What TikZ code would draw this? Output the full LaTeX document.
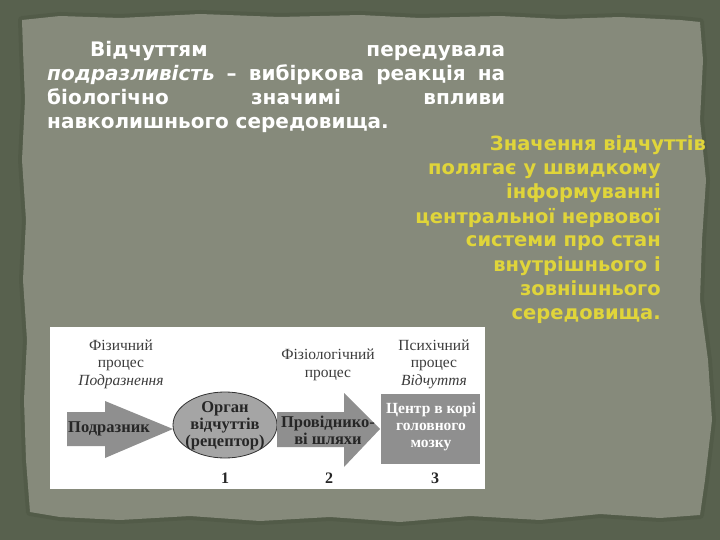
\documentclass[tikz,border=0pt]{standalone}
\usepackage{fontspec}
\usetikzlibrary{shapes.geometric}
\setmainfont{DejaVu Sans}
\newfontfamily\dserif{Liberation Serif}
\definecolor{framecol}{RGB}{88,97,78}
\definecolor{framedark}{RGB}{72,80,62}
\definecolor{papercol}{RGB}{134,138,123}
\definecolor{yell}{RGB}{224,213,58}
\definecolor{arrowgray}{RGB}{143,143,143}
\definecolor{ellgray}{RGB}{165,165,165}
\definecolor{labgray}{RGB}{60,60,60}
\tikzset{
  whitetext/.style={text=white, font=\bfseries\fontsize{20}{24}\selectfont, inner sep=0pt},
  yelltext/.style={text=yell, font=\bfseries\fontsize{19.5}{24}\selectfont, inner sep=0pt, anchor=base east},
  toplabel/.style={text=labgray, font=\dserif\fontsize{15.5}{17.5}\selectfont, align=center, inner sep=0pt},
  boldlabel/.style={text=black!85, font=\dserif\bfseries\fontsize{16.5}{16.8}\selectfont, align=center, inner sep=0pt},
  whitelabel/.style={text=white, font=\dserif\bfseries\fontsize{15.5}{16.8}\selectfont, align=center, inner sep=0pt},
  numlabel/.style={text=black!85, font=\dserif\bfseries\fontsize{16}{16}\selectfont, inner sep=0pt},
  grayshape/.style={fill=arrowgray, draw=none}
}
\begin{document}
\begin{tikzpicture}[x=1pt,y=-1pt]
\useasboundingbox (0,0) rectangle (720,540);
\fill[framecol] (0,0) rectangle (720,540);
% torn paper
\def\paperpath{(22,20) -- (60,16) -- (120,18) -- (200,14) -- (280,17) -- (360,15) -- (420,18) -- (500,16) -- (560,19) -- (620,17) -- (680,20) -- (700,22)
 -- (703,60) -- (700,120) -- (706,180) -- (702,240) -- (700,300) -- (708,360) -- (712,420) -- (705,480) -- (700,515)
 -- (660,518) -- (600,514) -- (540,520) -- (470,516) -- (400,522) -- (330,517) -- (260,521) -- (190,516) -- (120,520) -- (60,517) -- (30,512)
 -- (26,460) -- (24,400) -- (27,340) -- (23,280) -- (26,220) -- (22,160) -- (25,100) -- (23,50) -- cycle}
\draw[framedark, line width=8pt, opacity=0.35, line join=round] \paperpath;
\fill[papercol] \paperpath;

% left white text
\node[whitetext, anchor=base west] (l1) at (90,57) {\hbox to 415pt{Відчуттям\hfill передувала}};
\node[whitetext, anchor=base west] (l2) at (47,81) {\hbox to 458pt{\itshape подразливість\hfill\upshape –\hfill вибіркова\hfill реакція\hfill на}};
\node[whitetext, anchor=base west] (l3) at (47,105) {\hbox to 458pt{біологічно\hfill значимі\hfill впливи}};
\node[whitetext, anchor=base west] (l4) at (47,129) {навколишнього середовища.};

% right yellow text
\node[yelltext] (r1) at (706,151) {Значення відчуттів};
\node[yelltext] (r2) at (661,175) {полягає у швидкому};
\node[yelltext] (r3) at (661,199) {інформуванні};
\node[yelltext] (r4) at (661,223) {центральної нервової};
\node[yelltext] (r5) at (661,247) {системи про стан};
\node[yelltext] (r6) at (661,271) {внутрішнього і};
\node[yelltext] (r7) at (661,295) {зовнішнього};
\node[yelltext] (r8) at (661,319) {середовища.};

% diagram
\fill[white] (50,327) rectangle (485,489);
\node[toplabel] (t1) at (121,364) {Фізичний\\процес\\\itshape Подразнення};
\node[toplabel] (t2) at (328,365) {Фізіологічний\\процес};
\node[toplabel] (t3) at (434,364) {Психічний\\процес\\\itshape Відчуття};

\fill[grayshape] (67,412) -- (105,412) -- (105,401) -- (173,429) -- (105,458) -- (105,446) -- (67,446) -- cycle;
\node[boldlabel] (a1) at (109,429) {Подразник};

\node[ellipse, draw=black!80, line width=0.8pt, fill=ellgray, minimum width=104pt, minimum height=66pt] (org) at (225,425) {};
\node[boldlabel] (orgt) at (225,426) {Орган\\відчуттів\\(рецептор)};

\fill[grayshape] (277,412) -- (344,412) -- (344,393) -- (380,429) -- (344,467) -- (344,447) -- (277,447) -- cycle;
\node[boldlabel] (a2) at (328,430) {Провіднико-\\ві шляхи};

\node[fill=arrowgray, minimum width=99pt, minimum height=70pt, inner sep=0pt] (ctr) at (430.5,429) {};
\node[whitelabel] (ctrt) at (431,427) {Центр в корі\\головного\\мозку};

\node[numlabel] (n1) at (225,478) {1};
\node[numlabel] (n2) at (329,478) {2};
\node[numlabel] (n3) at (435,478) {3};
\end{tikzpicture}
\end{document}
